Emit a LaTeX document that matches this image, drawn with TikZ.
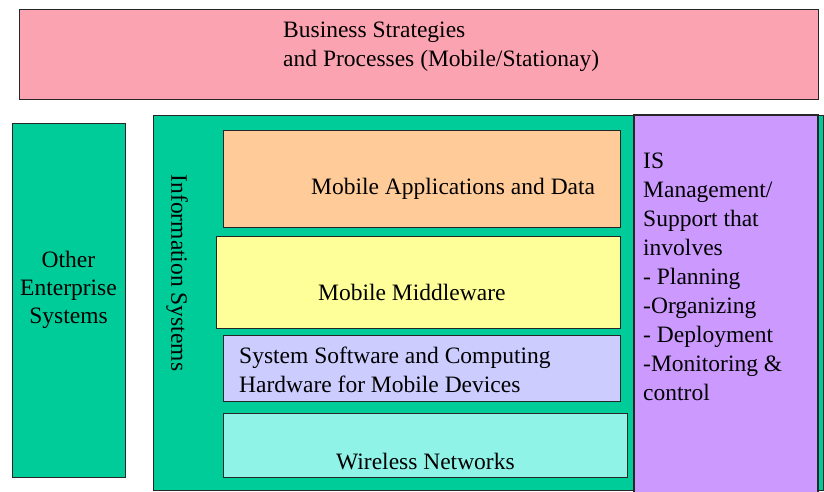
\documentclass[tikz,border=0pt]{standalone}
\usepackage{fontspec}
\setmainfont{Liberation Serif}
\definecolor{bizpink}{RGB}{252,163,177}
\definecolor{isgreen}{RGB}{0,204,153}
\definecolor{appsorange}{RGB}{255,204,153}
\definecolor{midyellow}{RGB}{255,255,153}
\definecolor{syslav}{RGB}{204,204,255}
\definecolor{wirecyan}{RGB}{144,243,232}
\definecolor{mgmtpurple}{RGB}{204,153,255}

\begin{document}
\begin{tikzpicture}[x=1pt,y=-1pt,
    layer/.style={draw=black!85,line width=0.9pt,inner sep=0pt},
    txt/.style={inner sep=0pt,font=\fontsize{23.5}{29}\selectfont}]
    \useasboundingbox (0,0) rectangle (824,491);
    % boxes
    \node[layer,fill=bizpink,minimum width=799pt,minimum height=90pt] (biz) at (418.5,54) {};
    \node[layer,fill=isgreen,minimum width=113pt,minimum height=354pt] (other) at (68.5,300) {};
    \node[layer,fill=isgreen,minimum width=670pt,minimum height=375pt] (info) at (488,302.5) {};
    \node[layer,fill=mgmtpurple,line width=1.4pt,minimum width=184pt,minimum height=378pt] (mgmt) at (726,304) {};
    \node[layer,fill=appsorange,minimum width=397pt,minimum height=97pt] (apps) at (421.5,178.5) {};
    \node[layer,fill=midyellow,minimum width=404pt,minimum height=92pt] (mid) at (418,282) {};
    \node[layer,fill=syslav,minimum width=397pt,minimum height=66pt] (sys) at (421.5,368) {};
    \node[layer,fill=wirecyan,minimum width=404pt,minimum height=64pt] (wire) at (425,445) {};
    % texts (base = last line)
    \node[txt,anchor=base west,align=left] (bizT) at (283,66) {Business Strategies\\and Processes (Mobile/Stationay)};
    \node[txt,anchor=base,align=center,font=\fontsize{23.5}{28}\selectfont] (otherT) at (68.5,323) {Other\\Enterprise\\Systems};
    \node[txt,rotate=-90] (infoT) at (177,273) {Information Systems};
    \node[txt,anchor=base west] (appsT) at (311,194) {Mobile Applications and Data};
    \node[txt,anchor=base west] (midT) at (318,300) {Mobile Middleware};
    \node[txt,anchor=base west,align=left] (sysT) at (239,392) {System Software and Computing\\Hardware for Mobile Devices};
    \node[txt,anchor=base west] (wireT) at (336,469) {Wireless Networks};
    \node[txt,anchor=base west,align=left] (mgmtT) at (643,400) {IS\\Management/\\Support that\\involves\\- Planning\\-Organizing\\- Deployment\\-Monitoring \&\\control};
\end{tikzpicture}
\end{document}
